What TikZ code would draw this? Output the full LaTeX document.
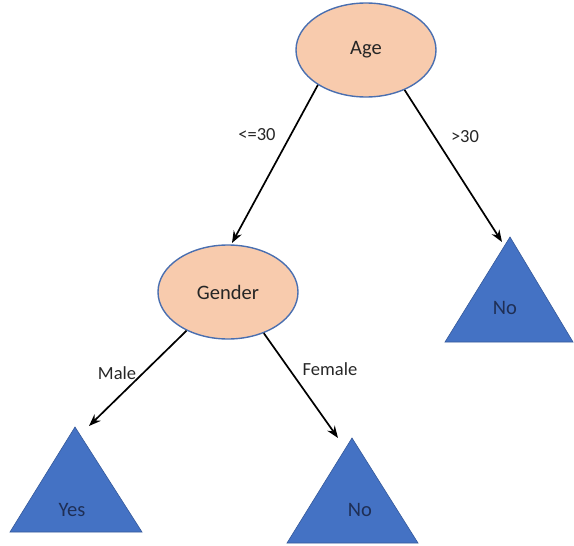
\documentclass[tikz,border=0pt]{standalone}
\usepackage{fontspec}
\setmainfont{Carlito}
\usetikzlibrary{shapes.geometric,arrows.meta}
\definecolor{peach}{HTML}{F8CBAD}
\definecolor{edgeblue}{HTML}{4A6FB0}
\definecolor{triblue}{HTML}{4472C4}
\definecolor{tridark}{HTML}{35599A}
\definecolor{navytext}{HTML}{1F2F55}
\definecolor{txtgray}{HTML}{262626}
\tikzset{
  decision/.style={ellipse,draw=edgeblue,line width=1.4pt,fill=peach,minimum width=140pt,minimum height=94pt,inner sep=0pt,font=\fontsize{20.5}{22}\selectfont,text=txtgray},
  leaf/.style={fill=triblue,draw=tridark,line width=0.6pt},
  leaftext/.style={font=\fontsize{20.5}{22}\selectfont,text=navytext},
  edgelabel/.style={font=\fontsize{18.5}{20}\selectfont,text=txtgray},
  conn/.style={-{Stealth[length=12pt,width=9pt]},line width=1.7pt,black}
}
\begin{document}
\begin{tikzpicture}[x=1pt,y=-1pt]
\useasboundingbox (0,0) rectangle (574,546);
% decision nodes
\node[decision] (age) at (366,50) {Age};
\node[decision] (gender) at (228,292) {Gender};
% leaves
\path[leaf] (445,342) -- (510,237) -- (573,342) -- cycle;
\path[leaf] (10,532) -- (75,427) -- (142,532) -- cycle;
\path[leaf] (287,543) -- (352,438) -- (418,543) -- cycle;
\node[leaftext] (noright) at (505,308) {No};
\node[leaftext] (yes) at (72,510) {Yes};
\node[leaftext] (nobottom) at (360,510) {No};
% arrow end points
\coordinate (tipgender) at (232,243);
\coordinate (tipnoright) at (502,242);
\coordinate (tipyes) at (89,426);
\coordinate (tipnobottom) at (338,438);
% connectors
\draw[conn] (age.216) -- (tipgender);
\draw[conn] (age.314) -- (tipnoright);
\draw[conn] (gender.223) -- (tipyes);
\draw[conn] (gender.311) -- (tipnobottom);
% labels
\node[edgelabel] (l1) at (257,135) {<=30};
\node[edgelabel] (l2) at (465,137) {>30};
\node[edgelabel] (l3) at (117,373) {Male};
\node[edgelabel] (l4) at (330,369) {Female};
\end{tikzpicture}
\end{document}
